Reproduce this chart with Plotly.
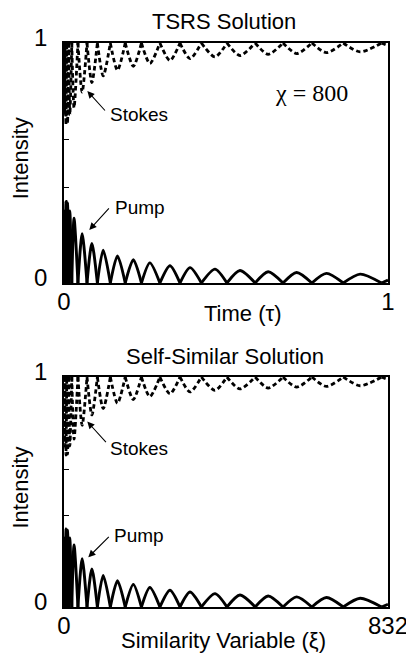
import plotly.graph_objects as go

# ---------------- data ----------------
# Top panel: TSRS solution, x = time tau in [0, 1]
tau_zero = [0.0, 0.004, 0.0085, 0.0145, 0.024, 0.043, 0.071, 0.103, 0.143, 0.189,
            0.239, 0.296, 0.358, 0.424, 0.503, 0.590, 0.676, 0.765, 0.862, 0.98]
tau_peak = [0.002, 0.006, 0.011, 0.018, 0.031, 0.056, 0.086, 0.121, 0.165, 0.214,
            0.265, 0.327, 0.389, 0.466, 0.543, 0.630, 0.718, 0.810, 0.914]
pump_peak_top = [0.30, 0.34, 0.335, 0.30, 0.27, 0.205, 0.165, 0.137, 0.113, 0.097,
                 0.084, 0.072, 0.064, 0.058, 0.052, 0.047, 0.044, 0.040, 0.037]
stokes_min_top = [0.70, 0.66, 0.665, 0.70, 0.73, 0.795, 0.835, 0.863, 0.887, 0.903,
                  0.915, 0.927, 0.935, 0.942, 0.948, 0.953, 0.956, 0.960, 0.963]
tau_tail = [0.98, 1.0]
pump_tail_top = [0.0, 0.012]
stokes_tail_top = [1.0, 0.988]

# Bottom panel: self-similar solution, x = similarity variable xi in [0, 832]
xi_zero = [0.0, 3.3, 7.1, 12.1, 20.0, 35.8, 59.1, 85.7, 119.0, 157.2,
           198.8, 246.3, 297.9, 352.8, 418.5, 490.9, 562.4, 636.5, 717.2, 815.4]
xi_peak = [1.7, 5.0, 9.2, 15.0, 25.8, 46.6, 71.6, 100.7, 137.3, 178.0,
           220.5, 272.1, 323.6, 387.7, 451.8, 524.2, 597.4, 673.9, 760.4]
pump_peak_bot = [0.30, 0.34, 0.335, 0.30, 0.27, 0.21, 0.165, 0.137, 0.114, 0.098,
                 0.085, 0.073, 0.065, 0.058, 0.052, 0.048, 0.044, 0.041, 0.038]
stokes_min_bot = [0.70, 0.66, 0.665, 0.70, 0.73, 0.79, 0.835, 0.863, 0.886, 0.902,
                  0.915, 0.927, 0.935, 0.942, 0.948, 0.952, 0.956, 0.959, 0.962]
xi_tail = [815.4, 832.0]
pump_tail_bot = [0.0, 0.012]
stokes_tail_bot = [1.0, 0.988]

x_ticks_top = [0, 1]
x_ticktext_top = ["0", "1"]
x_ticks_bot = [0, 832]
x_ticktext_bot = ["0", "832"]
y_ticks = [0, 0.2, 0.4, 0.6, 0.8, 1]
y_ticktext = ["0", "", "", "", "", "1"]


def arches(zeros, peaks, heights, base, tail_x, tail_y):
    xs, ys = [], []
    for i in range(len(peaks)):
        xs += [zeros[i], peaks[i], zeros[i + 1], None]
        ys += [base, heights[i], base, None]
    xs += tail_x
    ys += tail_y
    return xs, ys


fig = go.Figure()

SANS = "Liberation Sans, Arial, Helvetica, sans-serif"

for (xa, ya, zr, pk, pp, sm, tx, pt, st) in [
    ("x", "y", tau_zero, tau_peak, pump_peak_top, stokes_min_top, tau_tail, pump_tail_top, stokes_tail_top),
    ("x2", "y2", xi_zero, xi_peak, pump_peak_bot, stokes_min_bot, xi_tail, pump_tail_bot, stokes_tail_bot),
]:
    sx, sy = arches(zr, pk, sm, 1.0, tx, st)
    fig.add_trace(go.Scatter(x=sx, y=sy, xaxis=xa, yaxis=ya, mode="lines",
                             line=dict(color="black", width=2.8, dash="4.5px,3px",
                                       shape="spline", smoothing=0.75),
                             name="Stokes", showlegend=False, hoverinfo="skip"))
    px_, py_ = arches(zr, pk, pp, 0.0, tx, pt)
    fig.add_trace(go.Scatter(x=px_, y=py_, xaxis=xa, yaxis=ya, mode="lines",
                             line=dict(color="black", width=2.9, shape="spline", smoothing=0.75),
                             name="Pump", showlegend=False, hoverinfo="skip"))

# the page body has an 8px margin, so the figure is placed at (8, 8)
OFF = 8
W, H = 414 - OFF, 654 - OFF


def fx(px):
    return (px - OFF) / W


def fy(py):
    return 1 - (py - OFF) / H


xdom = [fx(64), fx(388)]
ydom_top = [fy(283), fy(43)]
ydom_bot = [fy(607), fy(377)]

axis_common = dict(showgrid=False, zeroline=False, showline=True, linecolor="black",
                   linewidth=1.6, mirror=True, color="black", automargin=False,
                   tickfont=dict(family=SANS, size=24, color="black"))

fig.update_layout(
    width=W, height=H, autosize=False,
    margin=dict(l=0, r=0, t=0, b=0, pad=0, autoexpand=False),
    paper_bgcolor="white", plot_bgcolor="white",
    xaxis=dict(domain=xdom, range=[0, 1], anchor="y", tickmode="array",
               tickvals=x_ticks_top, ticktext=x_ticktext_top, ticks="",
               ticklabelstandoff=-4, **axis_common),
    yaxis=dict(domain=ydom_top, range=[0, 1], anchor="x", tickmode="array",
               tickvals=y_ticks, ticktext=y_ticktext, ticks="inside", ticklen=5,
               tickwidth=1.2, tickcolor="black", ticklabelstandoff=10, ticklabelshift=-5,
               **axis_common),
    xaxis2=dict(domain=xdom, range=[0, 832], anchor="y2", tickmode="array",
                tickvals=x_ticks_bot, ticktext=x_ticktext_bot, ticks="",
                ticklabelstandoff=-4, **axis_common),
    yaxis2=dict(domain=ydom_bot, range=[0, 1], anchor="x2", tickmode="array",
                tickvals=y_ticks, ticktext=y_ticktext, ticks="inside", ticklen=5,
                tickwidth=1.2, tickcolor="black", ticklabelstandoff=10, ticklabelshift=-5,
                **axis_common),
)

ann = []
# titles and axis titles (paper coordinates)
for text, xp, yp, ang in [
    ("TSRS Solution", 224, 21.7, 0),
    ("Self-Similar Solution", 225, 356.7, 0),
    ("Time (τ)", 242.5, 313.5, 0),
    ("Similarity Variable (ξ)", 223.3, 640, 0),
    ("Intensity", 20, 158.3, -90),
    ("Intensity", 20, 487.5, -90),
]:
    ann.append(dict(text=text, x=fx(xp), y=fy(yp), xref="paper", yref="paper",
                    showarrow=False, xanchor="center", yanchor="middle", textangle=ang,
                    font=dict(family=SANS, size=22, color="black")))

# labels with arrows
for xr, yr, tx, ty, hx, hy, axp, ayp, label in [
    ("x", "y", 0.231, 0.70, 0.072, 0.80, 19, 21, "Stokes"),
    ("x", "y", 0.235, 0.315, 0.078, 0.221, 21, -23, "Pump"),
    ("x2", "y2", 192.6, 0.69, 59.8, 0.806, 20, 22, "Stokes"),
    ("x2", "y2", 192.6, 0.313, 62.4, 0.216, 22, -22, "Pump"),
]:
    ann.append(dict(text=label, x=tx, y=ty, xref=xr, yref=yr, showarrow=False,
                    xanchor="center", yanchor="middle",
                    font=dict(family=SANS, size=19, color="black")))
    ann.append(dict(text="", x=hx, y=hy, xref=xr, yref=yr, showarrow=True,
                    ax=axp, ay=ayp, arrowhead=2, arrowsize=1.3, arrowwidth=1.1,
                    arrowcolor="black"))

ann.append(dict(text="χ = 800", x=0.765, y=0.79, xref="x", yref="y", showarrow=False,
                xanchor="center", yanchor="middle",
                font=dict(family="Liberation Serif, DejaVu Serif, serif", size=24, color="black")))

fig.update_layout(annotations=ann)

fig.write_html("out.html")
